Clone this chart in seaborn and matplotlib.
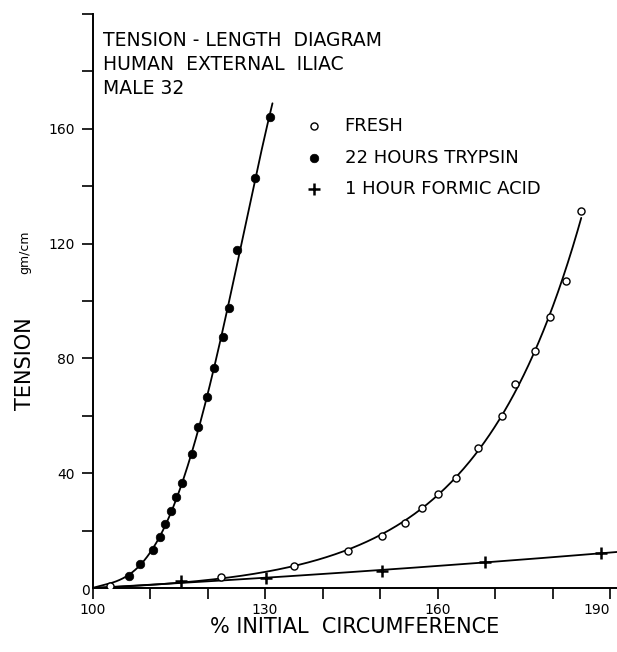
import numpy as np
import pandas as pd
import matplotlib
matplotlib.use("Agg")
import matplotlib.pyplot as plt
import seaborn as sns

# ---------------- data ----------------
fresh_x = [103.0, 122.3, 135.1, 144.4, 150.3, 154.3, 157.3, 160.0, 163.2, 167.1,
           171.3, 173.5, 177.0, 179.5, 182.4, 184.9]
fresh_y = [0.6, 3.9, 7.7, 12.8, 18.0, 22.8, 28.0, 32.8, 38.4, 48.9,
           59.9, 71.0, 82.7, 94.5, 107.1, 131.5]

trypsin_x = [106.4, 108.3, 110.6, 111.8, 112.6, 113.6, 114.5, 115.6, 117.3, 118.3,
             119.9, 121.2, 122.7, 123.8, 125.2, 128.3, 130.8]
trypsin_y = [4.2, 8.3, 13.2, 17.7, 22.3, 26.9, 31.7, 36.5, 46.6, 56.2,
             66.4, 76.6, 87.6, 97.7, 117.8, 143.0, 164.0]

formic_x = [115.4, 130.2, 150.3, 168.2, 188.4]
formic_y = [2.5, 3.4, 5.9, 9.1, 12.1]

# all curves start at the unstretched origin; where each drawn curve stops
origin = (100.0, 0.0)
curve_end_x = {"fresh": 185.0, "trypsin": 131.3, "formic": 193.0}

labels = {"fresh": "FRESH", "trypsin": "22 HOURS TRYPSIN", "formic": "1 HOUR FORMIC ACID"}
title_lines = ["TENSION - LENGTH  DIAGRAM", "HUMAN  EXTERNAL  ILIAC", "MALE 32"]
x_label = "% INITIAL  CIRCUMFERENCE"
y_label = "TENSION"
y_unit = "gm/cm"
x_ticklabels = {100: "100", 130: "130", 160: "160", 190: "190"}
y_ticklabels = {40: "40", 80: "80", 120: "120", 160: "160"}

# ---------------- figure ----------------
sns.set_style("ticks")
plt.rcParams["font.family"] = ["DejaVu Sans"]
plt.rcParams["text.color"] = "black"
plt.rcParams["axes.labelcolor"] = "black"
plt.rcParams["xtick.color"] = "black"
plt.rcParams["ytick.color"] = "black"

W, H = 617, 652
fig = plt.figure(figsize=(W / 100, H / 100), dpi=100)
ax_left, ax_bottom = 92.5 / W, (H - 588) / H
ax_right, ax_top = 1.0, (H - 14) / H
ax = fig.add_axes([ax_left, ax_bottom, ax_right - ax_left, ax_top - ax_bottom])


def smooth_curve(xs, ys, end, mode):
    """Least-squares smooth curve through the points, anchored at the origin."""
    t = np.array(xs, dtype=float) - origin[0]
    y = np.array(ys, dtype=float) - origin[1]
    xx = np.linspace(origin[0], end, 400)
    tt = xx - origin[0]
    if mode == "exp":
        # y = A (exp(k t) - 1) + B t, best k by grid search, A, B by least squares
        best = None
        for k in np.linspace(0.005, 0.15, 600):
            M = np.column_stack([np.expm1(k * t), t])
            coef, *_ = np.linalg.lstsq(M, y, rcond=None)
            sse = np.sum((M @ coef - y) ** 2)
            if best is None or sse < best[0]:
                best = (sse, k, coef)
        _, k, (A, B) = best
        yy = A * np.expm1(k * tt) + B * tt
    else:
        deg = 4 if mode == "poly4" else 2
        fx = np.concatenate([[0.0], t])
        fy = np.concatenate([[0.0], y])
        w = np.ones_like(fx)
        w[0] = 20.0
        coef = np.polyfit(fx, fy, deg, w=w)
        yy = np.polyval(coef, tt)
    return xx, yy + origin[1]


fit = {"fresh": "exp", "trypsin": "poly4", "formic": "poly2"}
series = {
    "fresh": (fresh_x, fresh_y),
    "trypsin": (trypsin_x, trypsin_y),
    "formic": (formic_x, formic_y),
}
for key, (xs, ys) in series.items():
    xx, yy = smooth_curve(xs, ys, curve_end_x[key], fit[key])
    sns.lineplot(x=xx, y=yy, ax=ax, color="black", linewidth=1.3, sort=False,
                 estimator=None, legend=False)

df_f = pd.DataFrame({"x": fresh_x, "y": fresh_y})
df_t = pd.DataFrame({"x": trypsin_x, "y": trypsin_y})
df_a = pd.DataFrame({"x": formic_x, "y": formic_y})

sns.scatterplot(data=df_f, x="x", y="y", ax=ax, marker="o", s=26,
                facecolor="white", edgecolor="black", linewidth=1.0,
                label=labels["fresh"], zorder=4)
sns.scatterplot(data=df_t, x="x", y="y", ax=ax, marker="o", s=38,
                color="black", edgecolor="black", linewidth=0.5,
                label=labels["trypsin"], zorder=4)
sns.scatterplot(data=df_a, x="x", y="y", ax=ax, marker="+", s=70,
                color="black", linewidth=1.8,
                label=labels["formic"], zorder=4)

ax.set_xlim(100, 100 + (W - 92.5) / 5.75)
ax.set_ylim(0, 200)

xt = np.arange(100, 191, 10)
ax.set_xticks(xt)
ax.set_xticklabels([x_ticklabels.get(int(v), "") for v in xt])
yt = np.arange(20, 201, 20)
ax.set_yticks(yt)
ax.set_yticklabels([y_ticklabels.get(int(v), "") for v in yt])

ax.tick_params(axis="both", direction="out", length=8, width=1.2, color="black",
               labelsize=10, labelcolor="black")
ax.tick_params(axis="x", pad=3)
ax.tick_params(axis="y", pad=5)
# keep the last x label inside the picture
ax.get_xticklabels()[-1].set_horizontalalignment("right")

for side in ["top", "right"]:
    ax.spines[side].set_visible(False)
for side in ["left", "bottom"]:
    ax.spines[side].set_linewidth(1.4)
    ax.spines[side].set_color("black")
ax.set_facecolor("white")
fig.patch.set_facecolor("white")

ax.annotate("0", xy=(100, 0), xytext=(-2, -2), textcoords="offset points",
            ha="right", va="center", fontsize=10)

ax.set_xlabel(x_label, fontsize=15, labelpad=0)
ax.set_ylabel("")
fig.text(25 / W, 1 - 364 / H, y_label, rotation=90, ha="center", va="center",
         fontsize=15)
fig.text(25 / W, 1 - 252 / H, y_unit, rotation=90, ha="center", va="center",
         fontsize=9)

for i, line in enumerate(title_lines):
    fig.text(103 / W, 1 - (41 + 23.5 * i) / H, line, ha="left", va="center",
             fontsize=13.5)

handles, lbls = ax.get_legend_handles_labels()
ax.legend(handles, lbls, loc="upper left", frameon=False,
          bbox_to_anchor=(305 / W, 1 - 117 / H), bbox_transform=fig.transFigure,
          fontsize=13, handletextpad=1.2, labelspacing=0.75, handlelength=1.0,
          borderpad=0, borderaxespad=0)

fig.savefig("out.png", dpi=100, facecolor="white")
